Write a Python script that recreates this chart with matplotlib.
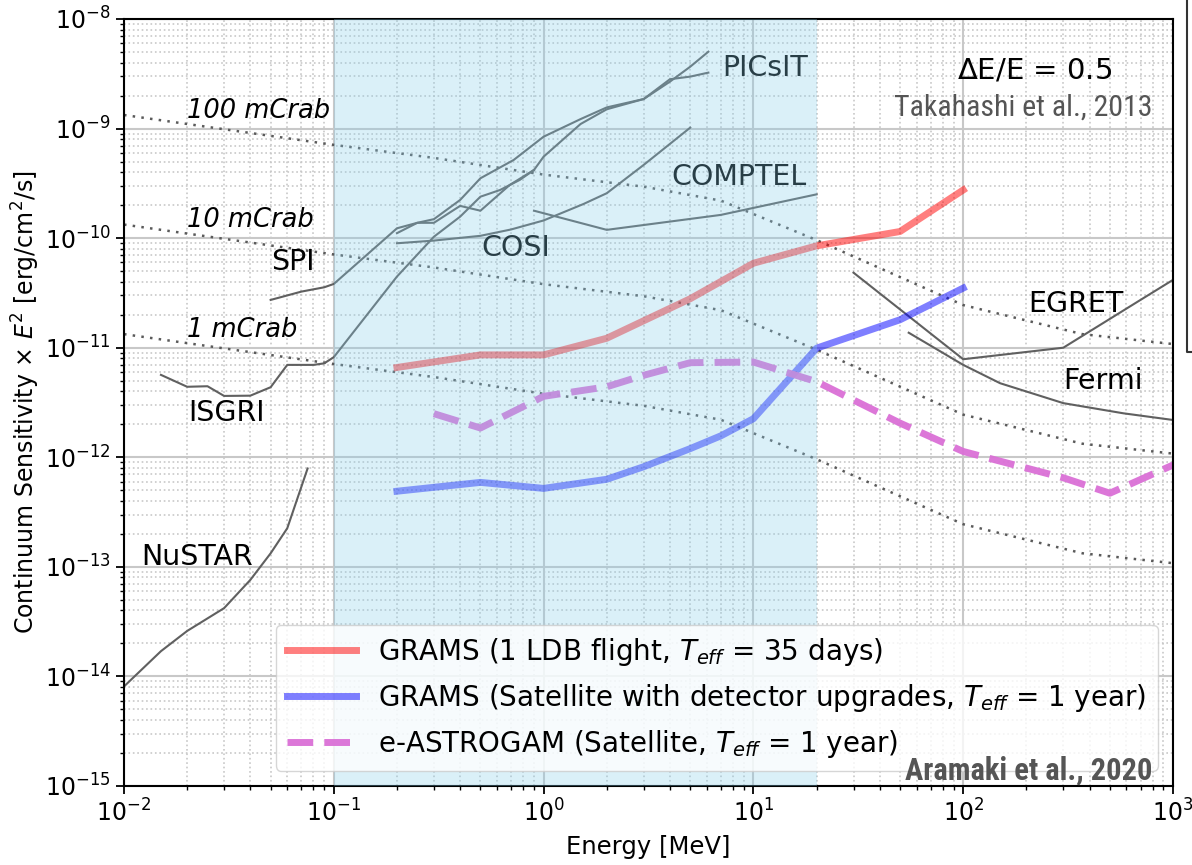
import matplotlib
matplotlib.use('Agg')
import matplotlib.pyplot as plt
from matplotlib.lines import Line2D

# Crab reference curve (100 mCrab) and fractions
crab_e = [0.01, 0.1, 0.3, 1, 3, 7, 20, 100, 370, 1000]
crab_100m = [1.33e-9, 7.1e-10, 5.4e-10, 3.8e-10, 2.95e-10, 2.2e-10, 9.6e-11, 2.45e-11, 1.33e-11, 1.08e-11]
crab_frac = [1.0, 0.1, 0.01]
crab_names = ['100 mCrab', '10 mCrab', '1 mCrab']

# existing instruments
nustar_e = [0.01, 0.015, 0.02, 0.03, 0.04, 0.05, 0.06, 0.075]
nustar_s = [8.1e-15, 1.7e-14, 2.6e-14, 4.2e-14, 7.6e-14, 1.33e-13, 2.25e-13, 7.9e-13]

isgri_e = [0.015, 0.02, 0.025, 0.03, 0.04, 0.05, 0.06, 0.08, 0.09, 0.1, 0.2, 0.3, 0.4, 0.5, 0.62, 0.77, 0.9]
isgri_s = [5.65e-12, 4.4e-12, 4.45e-12, 3.63e-12, 3.65e-12, 4.36e-12, 6.97e-12, 6.97e-12, 7.2e-12, 8.2e-12,
           4.46e-11, 1.03e-10, 1.57e-10, 2.39e-10, 2.75e-10, 3.4e-10, 4.19e-10]

spi_e = [0.05, 0.07, 0.09, 0.1, 0.2, 0.25, 0.3, 0.4, 0.5, 0.72, 1.0, 1.5, 2.0, 3.0, 4.0, 5.0, 6.1]
spi_s = [2.73e-11, 3.25e-11, 3.56e-11, 3.82e-11, 1.23e-10, 1.38e-10, 1.49e-10, 2.23e-10, 3.52e-10, 5.17e-10,
         8.43e-10, 1.22e-9, 1.56e-9, 1.86e-9, 2.82e-9, 2.98e-9, 3.24e-9]

picsit_e = [0.2, 0.25, 0.3, 0.4, 0.5, 0.69, 0.9, 1.0, 1.5, 2.0, 3.0, 4.0, 5.0, 6.1]
picsit_s = [1.11e-10, 1.38e-10, 1.38e-10, 1.97e-10, 1.78e-10, 3.06e-10, 4.19e-10, 5.54e-10, 1.1e-9, 1.5e-9,
            1.86e-9, 2.68e-9, 3.67e-9, 5.03e-9]

cosi_e = [0.2, 0.3, 0.5, 0.7, 1.0, 1.55, 2.0, 3.0, 5.0]
cosi_s = [8.98e-11, 9.5e-11, 1.05e-10, 1.2e-10, 1.45e-10, 2.05e-10, 2.57e-10, 4.66e-10, 1.02e-9]

comptel_e = [0.9, 2.0, 7.0, 20.0]
comptel_s = [1.78e-10, 1.19e-10, 1.63e-10, 2.51e-10]

egret_e = [30, 100, 300, 700, 1000]
egret_s = [4.84e-11, 7.85e-12, 1.0e-11, 2.73e-11, 4.16e-11]

fermi_e = [55, 100, 150, 300, 580, 1000]
fermi_s = [1.37e-11, 6.97e-12, 4.74e-12, 3.12e-12, 2.52e-12, 2.19e-12]

# GRAMS and e-ASTROGAM
grams_ldb_e = [0.2, 0.5, 1, 2, 5, 10, 20, 50, 100]
grams_ldb_s = [6.6e-12, 8.6e-12, 8.6e-12, 1.22e-11, 2.8e-11, 5.9e-11, 8.5e-11, 1.15e-10, 2.75e-10]

grams_sat_e = [0.2, 0.5, 1, 2, 3, 5, 7, 10, 20, 50, 100]
grams_sat_s = [4.9e-13, 5.9e-13, 5.2e-13, 6.3e-13, 8.2e-13, 1.2e-12, 1.57e-12, 2.25e-12, 9.9e-12, 1.8e-11, 3.5e-11]

eastro_e = [0.3, 0.5, 1, 2, 3, 5, 10, 20, 50, 100, 300, 500, 1000]
eastro_s = [2.5e-12, 1.85e-12, 3.6e-12, 4.4e-12, 5.6e-12, 7.3e-12, 7.4e-12, 4.9e-12, 2.05e-12, 1.13e-12,
            6.5e-13, 4.7e-13, 8.5e-13]

# label text, x, y
inst_labels = [('NuSTAR', 0.0121, 1.23e-13), ('ISGRI', 0.0202, 2.54e-12), ('SPI', 0.0502, 6.07e-11),
               ('COSI', 0.503, 8.15e-11), ('COMPTEL', 4.05, 3.61e-10), ('PICsIT', 7.08, 3.57e-9),
               ('EGRET', 204, 2.51e-11), ('Fermi', 299, 4.98e-12)]

fig = plt.figure(figsize=(11.92, 8.65), dpi=100)
ax = fig.add_axes([0.10403, 0.09133, 0.88003, 0.88671])
ax.set_xscale('log')
ax.set_yscale('log')
ax.set_xlim(1e-2, 1e3)
ax.set_ylim(1e-15, 1e-8)

ax.grid(True, which='major', color='#c8c8c8', lw=1.5, ls='-')
ax.grid(True, which='minor', color='#c8c8c8', lw=1.2, ls=':')
ax.set_axisbelow(True)

for frac, name in zip(crab_frac, crab_names):
    ax.plot(crab_e, [v * frac for v in crab_100m], ls=(0, (1, 2.5)), color='#5a5a5a', lw=1.8)
    ax.text(0.02, 1.45e-9 * frac, name, fontsize=18.5, style='italic', va='center', ha='left')

gray = '#606060'
for e, s in [(nustar_e, nustar_s), (isgri_e, isgri_s), (spi_e, spi_s), (picsit_e, picsit_s),
             (cosi_e, cosi_s), (comptel_e, comptel_s), (egret_e, egret_s), (fermi_e, fermi_s)]:
    ax.plot(e, s, color=gray, lw=1.5)

for name, x, y in inst_labels:
    ax.text(x, y, name, fontsize=20.5, va='center', ha='left')

ax.plot(grams_ldb_e, grams_ldb_s, color='red', alpha=0.5, lw=5,
        label=r'GRAMS (1 LDB flight, $T_{eff}$ = 35 days)')
ax.plot(grams_sat_e, grams_sat_s, color='blue', alpha=0.5, lw=5,
        label=r'GRAMS (Satellite with detector upgrades, $T_{eff}$ = 1 year)')
ax.plot(eastro_e, eastro_s, color='orchid', alpha=0.95, lw=5, ls='--',
        label=r'e-ASTROGAM (Satellite, $T_{eff}$ = 1 year)')

# GRAMS energy band shading drawn on top
ax.axvspan(0.1, 20, color='skyblue', alpha=0.3, lw=0, zorder=4)

leg = ax.legend(loc='lower right', fontsize=20, handlelength=2.5, labelspacing=0.5,
                framealpha=0.8, borderaxespad=0.55)
leg.set_zorder(6)

ax.text(0.942, 0.9335, r'$\Delta$E/E = 0.5', transform=ax.transAxes, fontsize=21,
        ha='right', va='center')
ax.text(0.98, 0.884, 'Takahashi et al., 2013', transform=ax.transAxes, fontsize=21.5,
        ha='right', va='center', color='#555555', family=['Roboto Condensed', 'Roboto'])
ax.text(0.98, 0.0196, 'Aramaki et al., 2020', transform=ax.transAxes, fontsize=22,
        ha='right', va='center', color='#555555', weight='bold', zorder=7,
        family=['Roboto Condensed', 'Roboto'])

ax.set_xlabel('Energy [MeV]', fontsize=17.5, labelpad=6)
ax.set_ylabel(r'Continuum Sensitivity $\times$ $E^2$ [erg/cm$^2$/s]', fontsize=17, labelpad=2)
ax.tick_params(which='major', labelsize=17, length=6, width=1.3)
ax.tick_params(which='minor', length=3, width=1)
for sp in ax.spines.values():
    sp.set_linewidth(1.5)

# edge of the neighbouring panel's box, clipped at the figure border
fig.add_artist(Line2D([0.9954, 0.9954, 1.0], [1.0, 0.593, 0.593], transform=fig.transFigure,
                      color='#333333', lw=1.5))

fig.savefig('out.png', dpi=100)
